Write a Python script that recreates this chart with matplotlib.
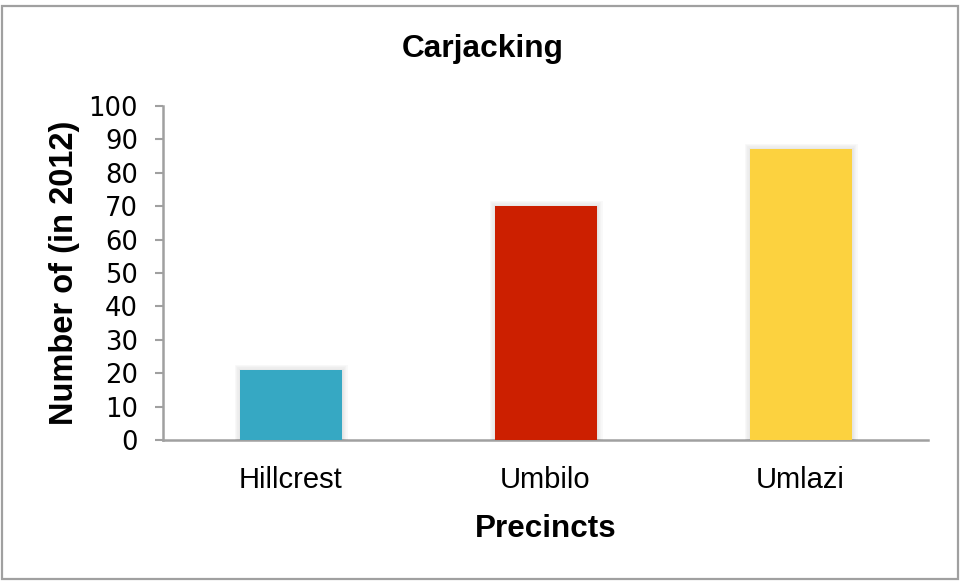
import matplotlib
matplotlib.use("Agg")
import matplotlib.pyplot as plt
import matplotlib.patheffects as pe
from matplotlib.patches import Rectangle

precincts = ["Hillcrest", "Umbilo", "Umlazi"]
carjackings = [21, 70, 87]
bar_colors = ["#36A8C3", "#CC1F00", "#FCD23F"]
y_ticks = list(range(0, 101, 10))

W, H = 961, 581
fig = plt.figure(figsize=(W / 100, H / 100), dpi=100)
ax = fig.add_axes([163 / W, 1 - 440 / H, (928 - 163) / W, (440 - 106) / H])

x = list(range(len(precincts)))
bars = ax.bar(x, carjackings, width=0.4, color=bar_colors, zorder=3)

# soft glow around each bar
glow = [pe.Stroke(linewidth=w, foreground="#000000", alpha=0.022) for w in (8, 6, 4, 2)]
for b in bars:
    b.set_path_effects(glow + [pe.Normal()])

ax.set_xlim(-0.5, len(precincts) - 0.5)
ax.set_ylim(0, 100)
ax.set_yticks(y_ticks)
ax.set_yticklabels([str(t) for t in y_ticks], fontfamily="DejaVu Sans", fontsize=18.6)
ax.set_xticks(x)
ax.set_xticklabels(precincts, fontfamily="Liberation Sans", fontsize=21)

axis_gray = "#A0A0A0"
for side in ("top", "right"):
    ax.spines[side].set_visible(False)
for side in ("left", "bottom"):
    ax.spines[side].set_color(axis_gray)
    ax.spines[side].set_linewidth(1.8)

ax.tick_params(axis="y", direction="out", length=6, width=1.5, color=axis_gray, pad=12)
ax.tick_params(axis="x", length=0, pad=19)

ax.set_xlabel("Precincts", fontfamily="Liberation Sans", fontweight="bold",
              fontsize=22.6, labelpad=14)
ax.set_ylabel("Number of (in 2012)", fontfamily="Liberation Sans", fontweight="bold",
              fontsize=23.5, labelpad=6)

fig.text(0.502, 1 - 57 / H, "Carjacking", ha="center", va="baseline",
         fontfamily="Liberation Sans", fontweight="bold", fontsize=22.8)

fig.patches.append(Rectangle((1.5 / W, 2 / H), (958 - 1.5) / W, (577 - 4) / H,
                             transform=fig.transFigure, fill=False,
                             edgecolor=axis_gray, linewidth=1.6))

fig.savefig("out.png", dpi=100)
